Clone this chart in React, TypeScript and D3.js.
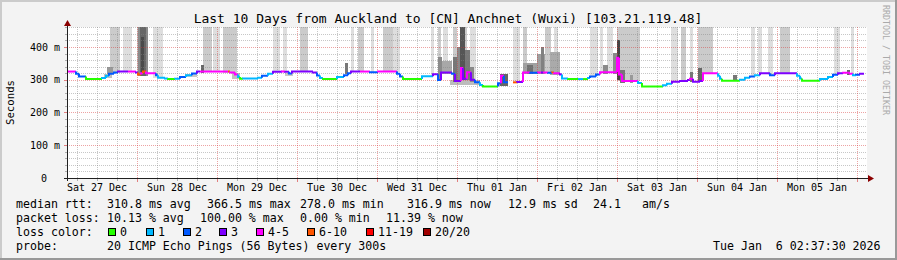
import React from 'react';
import * as d3 from 'd3';

// ---- data (time in hours since Sat 27 Dec 03:00) ----
const medianT = [0, 2.7, 3.6, 5.7, 10.5, 11.7, 12.6, 14.1, 15.3, 18.3, 20.7, 21.3, 22.2, 22.8, 23.7, 26.7, 27.3, 29.4, 30.3, 32.4, 33.9, 35.7, 37.5, 39, 39.9, 48.3, 48.9, 50.4, 51.3, 51.9, 52.8, 57.3, 58.5, 60.3, 61.8, 64.5, 65.4, 66.6, 67.5, 73.8, 75, 75.9, 76.8, 81, 83.1, 84.3, 85.2, 87.9, 90.9, 93.3, 99, 99.9, 100.8, 106.5, 109.8, 111.3, 112.2, 115.5, 116.4, 118.2, 118.8, 120, 121.2, 122.4, 123.9, 124.8, 129.3, 130.2, 131.1, 132.3, 133.8, 135, 136.8, 138.9, 141.3, 142.2, 142.8, 144.3, 145.5, 146.1, 147.9, 148.5, 150.3, 153.3, 154.8, 156.3, 156.9, 158.7, 159.9, 165, 165.6, 166.5, 171.3, 172.5, 178.8, 180, 181.5, 183.9, 186.3, 186.9, 187.8, 189.9, 190.8, 195.3, 195.9, 196.5, 201.9, 203.4, 204.9, 206.4, 207.9, 210.9, 212.4, 219, 219.9, 220.5, 225.9, 228.3, 229.8, 231.3, 232.8, 234.9, 235.8, 236.7, 237.9, 239.1];
const medianMs: (number | null)[] = [325, 318, 310, 302, 305, 312, 318, 322, 325, 325, 322, 316, 320, 325, 320, 314, 306, 304, 302, 303, 308, 314, 319, 325, 325, 325, 322, 316, 308, 303, 304, 306, 312, 318, 324, 325, 324, 319, 325, 322, 313, 305, 302, 308, 314, 320, 325, 325, 323, 325, 318, 310, 302, 311, 317, 299, 322, 318, 296, 336, 303, 323, 300, 292, 284, 279, 289, 312, 292, null, 292, 293, 322, 321, 322, 322, 322, 321, 322, 320, 316, 304, 302, 302, 302, 305, 310, 316, 323, 367, 316, 296, 290, 279, 283, 288, 294, 296, 299, 303, 294, 296, 320, 312, 303, 297, 300, 306, 310, 314, 320, 314, 320, 312, 304, 297, 302, 308, 315, 320, 321, 318, 314, 315, 318, null];
const medianLoss = [4, 2, 2, 0, 1, 1, 2, 2, 3, 4, 3, 5, 4, 5, 4, 2, 1, 1, 0, 1, 2, 1, 2, 3, 4, 5, 4, 4, 1, 0, 1, 1, 2, 1, 3, 4, 3, 2, 3, 3, 2, 1, 0, 1, 2, 2, 3, 4, 2, 4, 2, 2, 0, 1, 3, 2, 3, 2, 3, 4, 3, 4, 3, 2, 1, 0, 2, 4, 2, 0, 5, 3, 4, 2, 4, 3, 4, 2, 5, 4, 3, 1, 0, 1, 0, 1, 2, 2, 4, 4, 4, 4, 1, 0, 1, 1, 3, 3, 3, 4, 3, 3, 4, 1, 1, 0, 1, 1, 2, 1, 3, 2, 3, 1, 1, 0, 1, 1, 2, 3, 4, 4, 1, 2, 3, 0];

// full-height smoke bars (start h, end h, shade level)
const barStart = [12.9, 16.8, 21, 25.8, 40.8, 43.8, 46.8, 61.8, 64.8, 69.9, 85.2, 87.3, 91.2, 94.8, 97.8, 109.2, 111.3, 112.8, 115.8, 117.9, 120.9, 133.8, 136.8, 143.4, 146.1, 156.9, 159.9, 162, 165, 181.2, 184.2, 186.9, 189.3, 205.2, 207.3, 210.3, 213.9, 230.1, 235.2];
const barEnd = [15.9, 19.5, 24.3, 28.8, 43.5, 45.9, 51, 63.9, 66, 72.3, 86.1, 89.1, 92.1, 97.8, 99.9, 110.1, 112.2, 114.3, 117, 120, 122.7, 135.9, 138, 145.2, 147.3, 159.3, 160.8, 163.8, 171.9, 183.3, 185.7, 187.8, 193.8, 206.4, 208.5, 211.8, 216.9, 231.9, 236.1];
const barShade = [2, 1, 2, 1, 2, 1, 2, 1, 1, 2, 1, 2, 1, 2, 1, 1, 2, 1, 2, 2, 1, 1, 2, 2, 1, 1, 1, 1, 2, 1, 2, 1, 2, 1, 1, 1, 2, 1, 1];

// darker smoke patches (start h, end h, low ms, high ms, gray)
const smokeStart = [11.1, 35.4, 49.5, 65.4, 114.9, 129.3, 12, 21.3, 21.9, 22.2, 40.2, 83.4, 111.3, 112.5, 115.8, 117, 117.9, 119.4, 120.9, 129.9, 136.8, 138, 141, 142.2, 144.9, 160.8, 163.8, 165, 165.9, 168.9, 186.9, 189.3, 199.8, 234];
const smokeEnd = [13.5, 39, 51.9, 67.8, 123.9, 132.3, 13.8, 24.3, 23.7, 23.1, 41.1, 84.3, 112.5, 115.5, 117, 117.9, 119.4, 120.9, 122.1, 132.3, 141, 139.8, 143.4, 143.1, 147.9, 162.3, 165, 165.9, 167.4, 169.8, 187.8, 190.5, 201, 234.9];
const smokeLow = [304, 308, 302, 312, 284, 280, 316, 310, 312, 316, 320, 316, 298, 316, 294, 294, 298, 298, 292, 282, 316, 316, 316, 316, 314, 316, 316, 298, 290, 290, 292, 292, 295, 314];
const smokeHigh = [318, 318, 322, 322, 300, 290, 338, 461, 461, 430, 345, 350, 370, 358, 370, 400, 461, 390, 340, 318, 352, 345, 380, 400, 385, 345, 382, 421, 330, 315, 323, 335, 314, 330];
const smokeGray = ['#c0c0c0', '#c8c8c8', '#c0c0c0', '#c8c8c8', '#bcbcbc', '#aaaaaa', '#999999', '#8a8a8a', '#666666', '#4a4a4a', '#666666', '#777777', '#8a8a8a', '#a8a8a8', '#777777', '#8a8a8a', '#555555', '#777777', '#8a8a8a', '#666666', '#a0a0a0', '#707070', '#a0a0a0', '#808080', '#aaaaaa', '#8a8a8a', '#8a8a8a', '#444444', '#777777', '#999999', '#777777', '#666666', '#777777', '#666666'];

const dayLabels = ['Sat 27 Dec', 'Sun 28 Dec', 'Mon 29 Dec', 'Tue 30 Dec', 'Wed 31 Dec', 'Thu 01 Jan', 'Fri 02 Jan', 'Sat 03 Jan', 'Sun 04 Jan', 'Mon 05 Jan'];
const yTicks = [0, 100, 200, 300, 400];
const yTickLabels = ['0', '100 m', '200 m', '300 m', '400 m'];
const lossLabels = ['0', '1', '2', '3', '4-5', '6-10', '11-19', '20/20'];
const lossColors = ['#26ff00', '#00b8ff', '#0059ff', '#7e00ff', '#ff00ff', '#ff5500', '#ff0000', '#a10000'];
const title = 'Last 10 Days from Auckland to [CN] Anchnet (Wuxi) [103.21.119.48]';

const FONT = '"DejaVu Sans Mono", monospace';

export default function App() {
  const W = 897, H = 260;
  const x = d3.scaleLinear().domain([0, 240]).range([67, 867]);
  const y = d3.scaleLinear().domain([0, 461]).range([178, 27]);
  const px = (h: number) => Math.round(x(h));
  const py = (v: number) => Math.round(y(v));

  const medAt = (h: number) => {
    let i = d3.bisectRight(medianT, h) - 1;
    i = Math.max(0, Math.min(i, medianT.length - 2));
    let v = medianMs[i];
    while (v == null && i > 0) { i--; v = medianMs[i]; }
    return v as number;
  };

  const hMinor = d3.range(20, 461, 20).filter(v => v % 100 !== 0);
  const hMajor = [100, 200, 300, 400];
  const vMajor = d3.range(21, 240, 24);
  const vMinor = d3.range(3, 240, 6).filter(h => (h - 21) % 24 !== 0);

  const medSegs: { d: string; c: string }[] = [];
  for (let i = 0; i < medianT.length - 1; i++) {
    const v = medianMs[i];
    if (v == null) continue;
    const x0 = x(medianT[i]), x1 = x(medianT[i + 1]);
    const prev = i > 0 ? medianMs[i - 1] : null;
    const d = prev != null
      ? `M${x0},${y(prev)}V${y(v)}H${x1}`
      : `M${x0},${y(v)}H${x1}`;
    medSegs.push({ d, c: lossColors[medianLoss[i]] });
  }

  const legendSq = [108, 146, 183, 219, 256, 307, 366, 423];
  const pre = { whiteSpace: 'pre' as const };

  return (
    <svg width={W} height={H} style={{ position: 'absolute', left: 0, top: 0, display: 'block' }} fontFamily={FONT}>
      <rect x={0} y={0} width={W} height={H} fill="#f3f3f3" />
      {/* frame */}
      <rect x={0} y={0} width={W} height={2} fill="#cbcbcb" />
      <rect x={0} y={0} width={2} height={H} fill="#cbcbcb" />
      <rect x={0} y={H - 2} width={W} height={2} fill="#999999" />
      <rect x={W - 2} y={0} width={2} height={H} fill="#999999" />

      {/* canvas */}
      <rect x={67} y={27} width={800} height={151} fill="#ffffff" />

      {/* smoke bars */}
      <g shapeRendering="crispEdges">
        {barStart.map((s, i) => {
          const x0 = px(s), x1 = px(barEnd[i]);
          const top = py(461);
          const bot = py(medAt((s + barEnd[i]) / 2));
          return <rect key={'b' + i} x={x0} y={top} width={Math.max(1, x1 - x0)} height={bot - top}
            fill={barShade[i] === 2 ? '#cbcbcb' : '#dedede'} />;
        })}
        {smokeStart.map((s, i) => {
          const x0 = px(s), x1 = px(smokeEnd[i]);
          const top = py(smokeHigh[i]);
          const bot = py(smokeLow[i]);
          return <rect key={'s' + i} x={x0} y={top} width={Math.max(1, x1 - x0)} height={bot - top} fill={smokeGray[i]} />;
        })}
      </g>

      {/* grid */}
      <g strokeDasharray="1 1" strokeWidth={1} shapeRendering="crispEdges">
        {hMinor.map(v => <line key={'hm' + v} x1={67} x2={867} y1={py(v) + 0.5} y2={py(v) + 0.5} stroke="rgba(130,130,130,0.45)" />)}
        {vMinor.map(h => <line key={'vm' + h} x1={px(h) + 0.5} x2={px(h) + 0.5} y1={27} y2={178} stroke="rgba(130,130,130,0.45)" />)}
        {hMajor.map(v => <line key={'hM' + v} x1={67} x2={867} y1={py(v) + 0.5} y2={py(v) + 0.5} stroke="rgba(215,50,50,0.45)" />)}
        {vMajor.map(h => <line key={'vM' + h} x1={px(h) + 0.5} x2={px(h) + 0.5} y1={27} y2={178} stroke="rgba(215,50,50,0.45)" />)}
      </g>
      {/* small ticks */}
      <g shapeRendering="crispEdges">
        {vMinor.map(h => <line key={'tm' + h} x1={px(h) + 0.5} x2={px(h) + 0.5} y1={179} y2={181} stroke="rgba(130,130,130,0.6)" />)}
        {vMajor.map(h => <line key={'tM' + h} x1={px(h) + 0.5} x2={px(h) + 0.5} y1={179} y2={182} stroke="rgba(215,50,50,0.6)" />)}
        {hMajor.map(v => <line key={'ty' + v} x1={64} x2={67} y1={py(v) + 0.5} y2={py(v) + 0.5} stroke="rgba(215,50,50,0.6)" />)}
        {hMinor.map(v => <line key={'tyn' + v} x1={65} x2={67} y1={py(v) + 0.5} y2={py(v) + 0.5} stroke="rgba(130,130,130,0.6)" />)}
      </g>

      {/* median line */}
      <g fill="none" strokeWidth={2}>
        {medSegs.map((s, i) => <path key={'m' + i} d={s.d} stroke={s.c} />)}
      </g>

      {/* axes */}
      <g shapeRendering="crispEdges">
        <line x1={64} x2={869} y1={178.5} y2={178.5} stroke="#202020" />
        <line x1={67.5} x2={67.5} y1={25} y2={181} stroke="#202020" />
      </g>
      <path d="M64,26L71,26L67.5,20Z" fill="#8b0000" />
      <path d="M868,175L868,182L874,178.5Z" fill="#8b0000" />

      {/* axis labels */}
      <g fontSize={10} fill="#000">
        {yTicks.map((v, i) => (
          <text key={'yl' + v} x={v === 0 ? 47 : 60} y={y(v) + 3.6} textAnchor="end">{yTickLabels[i]}</text>
        ))}
        {dayLabels.map((l, i) => (
          <text key={'dl' + i} x={x(9 + 24 * i)} y={191} textAnchor="middle">{l}</text>
        ))}
      </g>
      <text transform="translate(13.5,102.5) rotate(-90)" fontSize={10.7} textAnchor="middle" fill="#000">Seconds</text>
      <text transform="translate(883,5) rotate(90)" fontSize={8.3} fill="#aaaaaa">RRDTOOL / TOBI OETIKER</text>

      {/* title */}
      <text x={448} y={23} fontSize={13} textAnchor="middle" fill="#000">{title}</text>

      {/* legend */}
      <g fontSize={11.6} fill="#000">
        <text x={16} y={208}>median rtt:</text>
        <text x={107} y={208}>310.8 ms avg</text>
        <text x={207} y={208}>366.5 ms max</text>
        <text x={300} y={208}>278.0 ms min</text>
        <text x={407} y={208}>316.9 ms now</text>
        <text x={508} y={208}>12.9 ms sd</text>
        <text x={593} y={208}>24.1</text>
        <text x={642} y={208}>am/s</text>

        <text x={16} y={222}>packet loss:</text>
        <text x={107} y={222}>10.13 % avg</text>
        <text x={200} y={222}>100.00 % max</text>
        <text x={300} y={222}>0.00 % min</text>
        <text x={386} y={222}>11.39 % now</text>

        <text x={16} y={236}>loss color:</text>
        {lossLabels.map((l, i) => (
          <g key={'lg' + i}>
            <rect x={legendSq[i] + 0.5} y={228.5} width={7} height={7} fill={lossColors[i]} stroke="#000" strokeWidth={1} shapeRendering="crispEdges" />
            <text x={legendSq[i] + 12} y={236}>{l}</text>
          </g>
        ))}

        <text x={16} y={250}>probe:</text>
        <text x={107} y={250}>20 ICMP Echo Pings (56 Bytes) every 300s</text>
        <text x={713} y={250} style={pre} xmlSpace="preserve">{'Tue Jan  6 02:37:30 2026'}</text>
      </g>
    </svg>
  );
}
